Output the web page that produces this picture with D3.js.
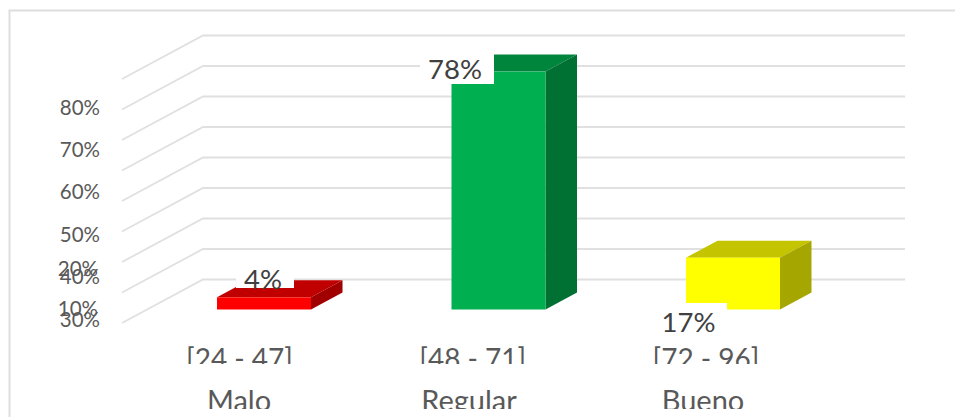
<!DOCTYPE html>
<html><head><meta charset="utf-8">
<script src="https://cdn.jsdelivr.net/npm/d3@7"></script>
<style>html,body{margin:0;background:#fff}svg{display:block}text{font-family:Lato,sans-serif}</style>
</head><body><svg id="c" width="955" height="417"></svg>
<script>
const categories = ["[24 - 47]", "[48 - 71]", "[72 - 96]"];
const qualities = ["Malo", "Regular", "Bueno"];
const values = [4, 78, 17];
const valueLabels = ["4%", "78%", "17%"];
const frontColors = ["#ff0000", "#00b050", "#ffff00"];
const topColors = ["#c00000", "#00863c", "#c4c400"];
const sideColors = ["#a00000", "#007033", "#a6a600"];
const gridValues = [0, 10, 20, 30, 40, 50, 60, 70, 80];
const upperTicks = [30, 40, 50, 60, 70, 80];
const lowerTicks = [10, 20];

const svg = d3.select("#c");
const W = 955, H = 417;
const y = d3.scaleLinear().domain([0, 80]).range([0, -244]);
const barX = d3.scaleLinear().domain([0, 2]).range([217, 686]);
const upperY = d3.scaleLinear().domain([30, 80]).range([326.5, 114.5]);
const lowerY = d3.scaleLinear().domain([10, 20]).range([315.5, 275.5]);
const barW = 94, barDx = 31.5, barDy = 17, base = 309.5;
const floorFront = 323, floorBack = 279.5, xFront = 122, xBack = 203, xEnd = 905;
const grid = "#e0e0e0", labelC = "#595959", dataC = "#404040";

svg.append("rect").attr("x", 9.5).attr("y", 10.5).attr("width", W).attr("height", H).attr("fill", "#fff").attr("stroke", "#dedede").attr("stroke-width", 2);

gridValues.forEach(v => {
  svg.append("polyline").attr("fill", "none").attr("stroke", grid).attr("stroke-width", 1.8)
    .attr("points", [[xFront, floorFront + y(v)], [xBack, floorBack + y(v)], [xEnd, floorBack + y(v)]].join(" "));
});

values.forEach((v, i) => {
  const x0 = barX(i), x1 = x0 + barW, t = base + y(v), g = svg.append("g");
  g.append("polygon").attr("fill", topColors[i]).attr("points", [[x0, t], [x0 + barDx, t - barDy], [x1 + barDx, t - barDy], [x1, t]].join(" "));
  g.append("polygon").attr("fill", sideColors[i]).attr("points", [[x1, t], [x1 + barDx, t - barDy], [x1 + barDx, base - barDy], [x1, base]].join(" "));
  g.append("rect").attr("x", x0).attr("y", t).attr("width", barW).attr("height", base - t).attr("fill", frontColors[i]);
});

const boxes = [[236, 262, 58, 26], [420, 48, 74, 36], [648, 303, 79, 34]];
const labelPos = [[263, 288.5], [455, 79], [688.5, 332]];
valueLabels.forEach((s, i) => {
  const b = boxes[i];
  svg.append("rect").attr("x", b[0]).attr("y", b[1]).attr("width", b[2]).attr("height", b[3]).attr("fill", "#fff");
  svg.append("text").attr("x", labelPos[i][0]).attr("y", labelPos[i][1]).attr("text-anchor", "middle").attr("font-size", 27.5).attr("fill", dataC).text(s);
});

upperTicks.forEach(v => svg.append("text").attr("x", 100).attr("y", upperY(v)).attr("text-anchor", "end").attr("font-size", 20.5).attr("fill", labelC).text(v + "%"));
lowerTicks.forEach(v => svg.append("text").attr("x", 98).attr("y", lowerY(v)).attr("text-anchor", "end").attr("font-size", 20.5).attr("fill", labelC).text(v + "%"));

const catCx = d3.scaleLinear().domain([0, 2]).range([239.5, 706]);
const qualityCx = [239, 469, 703];
categories.forEach((s, i) => {
  svg.append("text").attr("x", catCx(i)).attr("y", 369).attr("text-anchor", "middle").attr("font-size", 28).attr("fill", labelC).text(s);
  svg.append("text").attr("x", qualityCx[i]).attr("y", 411).attr("text-anchor", "middle").attr("font-size", 29).attr("fill", labelC).text(qualities[i]);
});
svg.append("rect").attr("x", 120).attr("y", 364).attr("width", 700).attr("height", 18).attr("fill", "#fff");
svg.append("rect").attr("x", 120).attr("y", 409).attr("width", 700).attr("height", 8).attr("fill", "#fff");
</script></body></html>
